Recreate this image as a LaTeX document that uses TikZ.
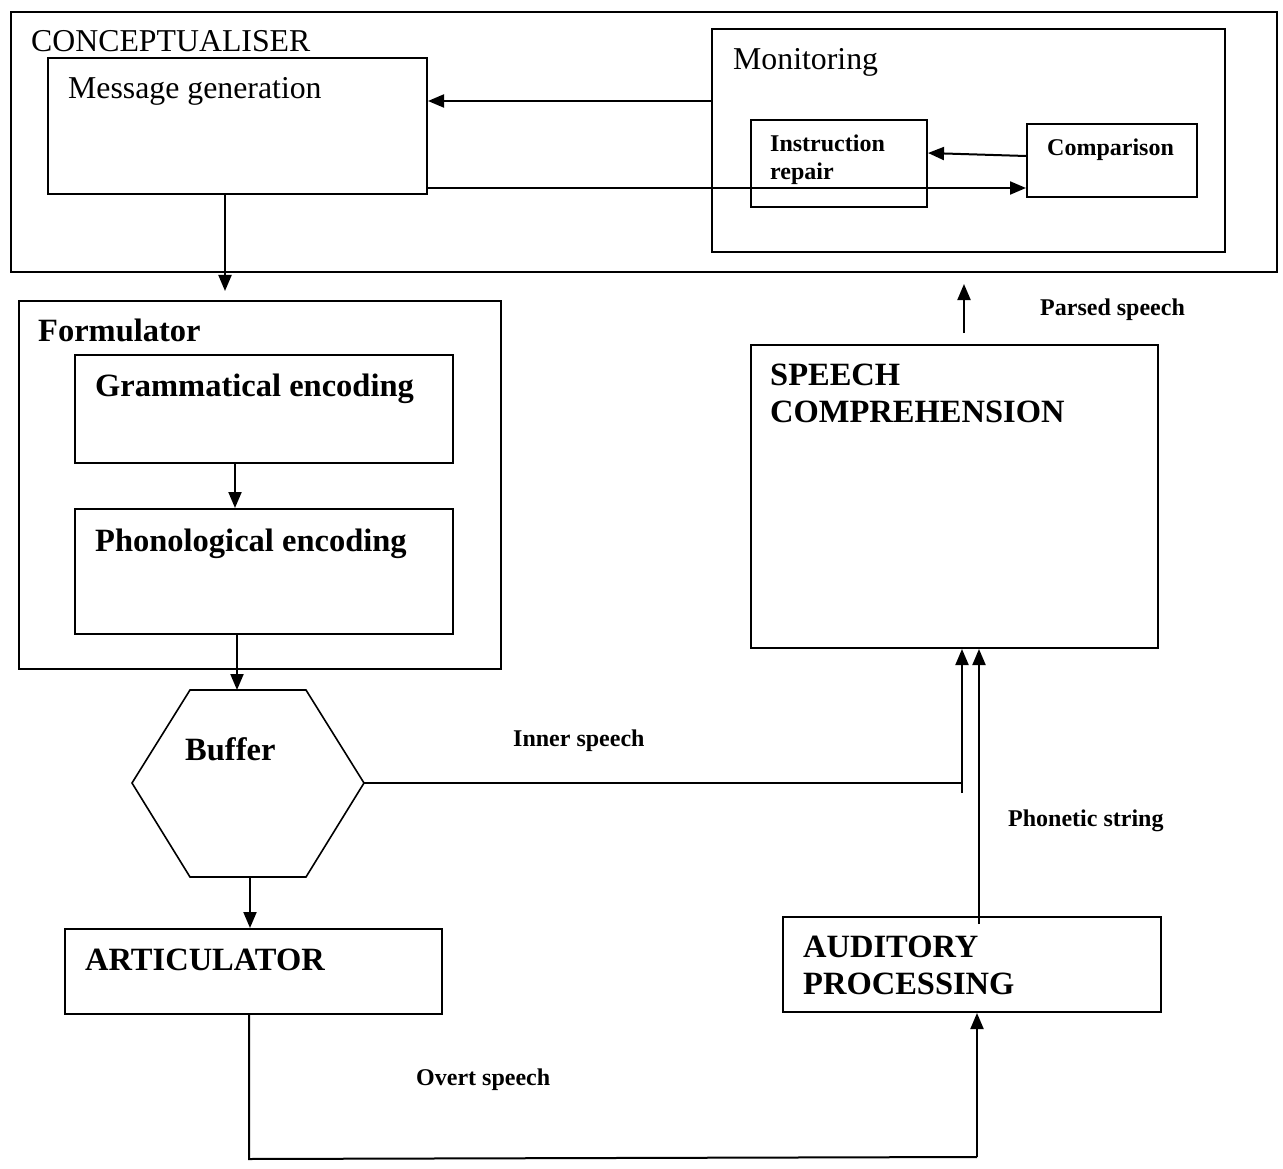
\documentclass[tikz,border=0pt]{standalone}
\usepackage{fontspec}
\setmainfont{Liberation Serif}
\usetikzlibrary{arrows.meta}
\begin{document}
\begin{tikzpicture}[x=1pt,y=-1pt,
  box/.style={draw,line width=2pt,rectangle,inner sep=0pt,anchor=north west},
  lbl/.style={anchor=base west,inner sep=0pt,font=\fontsize{31.8}{36}\selectfont},
  blbl/.style={anchor=base west,inner sep=0pt,font=\fontsize{32.5}{37}\selectfont\bfseries,align=left},
  slbl/.style={anchor=base west,inner sep=0pt,font=\fontsize{24}{28}\selectfont\bfseries,align=left},
  wire/.style={line width=2pt},
  arr/.style={line width=2pt,-{Triangle[length=16pt,width=13pt]}}]
\useasboundingbox (0,0) rectangle (1283,1169);

% conceptualiser block
\node[box,minimum width=1266pt,minimum height=260pt] (concept) at (10,11) {};
\node[lbl] (conceptT) at (31,52) {CONCEPTUALISER};
\node[box,minimum width=379pt,minimum height=136pt] (msg) at (47,57) {};
\node[lbl] (msgT) at (68,99) {Message generation};
\node[box,minimum width=513pt,minimum height=223pt] (mon) at (711,28) {};
\node[lbl] (monT) at (733,70) {Monitoring};
\node[box,minimum width=176pt,minimum height=87pt] (repair) at (750,119) {};
\node[slbl] (repairT) at (770,180) {Instruction\\repair};
\node[box,minimum width=170pt,minimum height=73pt] (comp) at (1026,123) {};
\node[slbl] (compT) at (1047,156) {Comparison};

% formulator block
\node[box,minimum width=482pt,minimum height=368pt] (form) at (18,300) {};
\node[blbl] (formT) at (38,341) {Formulator};
\node[box,minimum width=378pt,minimum height=108pt] (gram) at (74,354) {};
\node[blbl] (gramT) at (95,396) {Grammatical encoding};
\node[box,minimum width=378pt,minimum height=125pt] (phon) at (74,508) {};
\node[blbl] (phonT) at (95,551) {Phonological encoding};

% buffer hexagon
\coordinate (bufNW) at (190,690);
\coordinate (bufNE) at (306,690);
\coordinate (bufE) at (364,783);
\coordinate (bufSE) at (306,877);
\coordinate (bufSW) at (190,877);
\coordinate (bufW) at (132,783);
\draw[line width=1.6pt,line join=miter] (bufNW) -- (bufNE) -- (bufE) -- (bufSE) -- (bufSW) -- (bufW) -- cycle;
\node[blbl] (bufT) at (185,760) {Buffer};

% articulator and auditory processing
\node[box,minimum width=377pt,minimum height=85pt] (artic) at (64,928) {};
\node[blbl] (articT) at (85,970) {ARTICULATOR};
\node[box,minimum width=378pt,minimum height=95pt] (audit) at (782,916) {};
\node[blbl] (auditT) at (803,994) {AUDITORY\\PROCESSING};

% speech comprehension
\node[box,minimum width=407pt,minimum height=303pt] (comp2) at (750,344) {};
\node[blbl] (comp2T) at (770,422) {SPEECH\\COMPREHENSION};

% connectors inside the conceptualiser
\draw[arr] (mon.west |- 0,101) -- (msg.east |- 0,101);
\draw[arr] (msg.east |- 0,188) -- (comp.west |- 0,188);
\draw[arr] (comp.west |- 0,156) -- (repair.east |- 0,153);

% production chain
\coordinate (formTop) at (225,291);
\draw[arr] (msg.south -| 225,0) -- (formTop);
\draw[arr] (gram.south -| 235,0) -- (phon.north -| 235,0);
\draw[arr] (phon.south -| 237,0) -- (237,690);
\draw[arr] (250,877) -- (artic.north -| 250,0);

% overt speech loop
\coordinate (ovL) at (249,1159);
\coordinate (ovR) at (977,1157);
\draw[wire] (artic.south -| 249,0) -- (ovL) -- (ovR);
\draw[arr] (ovR) -- (audit.south -| 977,0);
\node[slbl] (overtT) at (416,1085) {Overt speech};

% inner speech
\coordinate (inJ) at (962,783);
\coordinate (inLow) at (962,793);
\draw[wire] (bufE) -- (inJ);
\draw[arr] (inLow) -- (comp2.south -| 962,0);
\node[slbl] (innerT) at (513,746) {Inner speech};

% phonetic string
\draw[arr] (audit.north -| 979,0) ++(0,8) -- (comp2.south -| 979,0);
\node[slbl] (phonstrT) at (1008,826) {Phonetic string};

% parsed speech
\coordinate (parsedTip) at (964,284);
\draw[arr] (comp2.north -| 964,0) ++(0,-11) -- (parsedTip);
\node[slbl] (parsedT) at (1040,315) {Parsed speech};
\end{tikzpicture}
\end{document}
